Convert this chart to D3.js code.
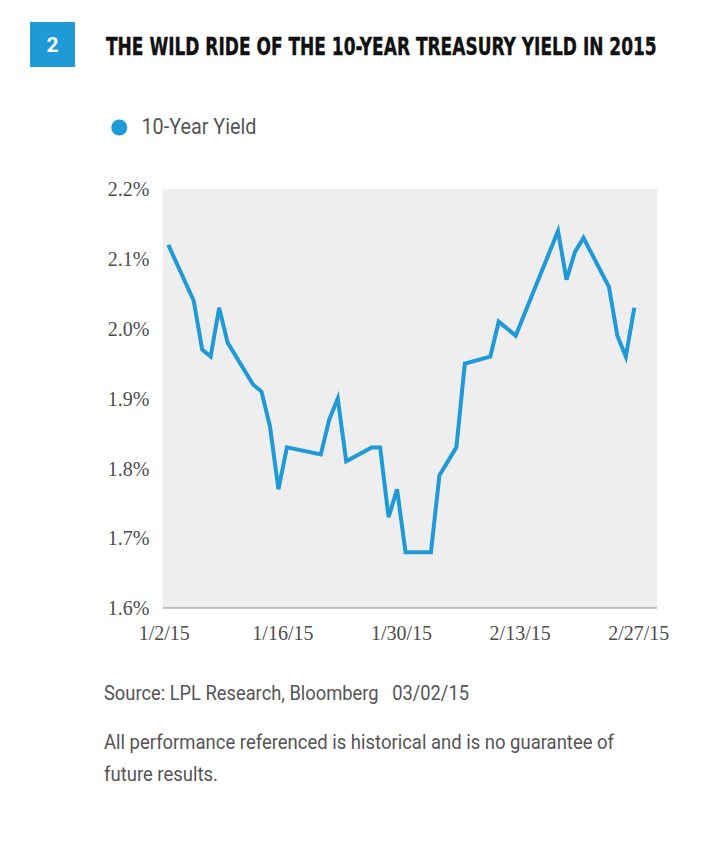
<!DOCTYPE html>
<html>
<head>
<meta charset="utf-8">
<script src="https://cdnjs.cloudflare.com/ajax/libs/d3/7.8.5/d3.min.js"></script>
<style>
  body { margin: 0; background: #fff; }
  svg { display: block; }
</style>
</head>
<body>
<svg id="chart" width="728" height="851"></svg>
<script>
// trading days shown on the chart (2015)
var dates = [
  '2015-01-02','2015-01-05','2015-01-06','2015-01-07','2015-01-08','2015-01-09',
  '2015-01-12','2015-01-13','2015-01-14','2015-01-15','2015-01-16',
  '2015-01-20','2015-01-21','2015-01-22','2015-01-23',
  '2015-01-26','2015-01-27','2015-01-28','2015-01-29','2015-01-30',
  '2015-02-02','2015-02-03','2015-02-04','2015-02-05','2015-02-06',
  '2015-02-09','2015-02-10','2015-02-11','2015-02-12','2015-02-13',
  '2015-02-17','2015-02-18','2015-02-19','2015-02-20',
  '2015-02-23','2015-02-24','2015-02-25','2015-02-26'
];

// 10-year yield, %
var yields = [
  2.12, 2.04, 1.97, 1.96, 2.03, 1.98,
  1.92, 1.91, 1.86, 1.77, 1.83,
  1.82, 1.87, 1.90, 1.81,
  1.83, 1.83, 1.73, 1.77, 1.68,
  1.68, 1.79, 1.81, 1.83, 1.95,
  1.96, 2.01, 2.00, 1.99, 2.02,
  2.14, 2.07, 2.11, 2.13,
  2.06, 1.99, 1.96, 2.03
];

var xTickLabels = ['1/2/15', '1/16/15', '1/30/15', '2/13/15', '2/27/15'];
var yTicks = [1.6, 1.7, 1.8, 1.9, 2.0, 2.1, 2.2];

var seriesName = '10-Year Yield';
var title = 'THE WILD RIDE OF THE 10-YEAR TREASURY YIELD IN 2015';
var figNum = '2';
var sourceLine = 'Source: LPL Research, Bloomberg   03/02/15';
var noteLines = ['All performance referenced is historical and is no guarantee of', 'future results.'];

var blue = '#1f9ad6';
var parse = d3.timeParse('%Y-%m-%d');
var tickParse = d3.timeParse('%m/%d/%y');

var data = dates.map(function(d, i){
  return {date: parse(d), value: yields[i]};
});

var svg = d3.select('#chart');

// plot box
var plot = {left: 163, right: 657, top: 189, bottom: 608};

var x = d3.scaleTime()
  .domain([parse('2015-01-02'), parse('2015-02-26')])
  .range([168.3, 634.3]);

var y = d3.scaleLinear()
  .domain([1.6, 2.2])
  .range([plot.bottom, plot.top]);

// header
svg.append('rect')
  .attr('x', 30).attr('y', 22)
  .attr('width', 45).attr('height', 45)
  .attr('fill', blue);

svg.append('text')
  .attr('x', 52.5).attr('y', 52)
  .attr('text-anchor', 'middle')
  .attr('font-family', 'Roboto, "DejaVu Sans", sans-serif')
  .attr('font-weight', 'bold')
  .attr('font-size', 21)
  .attr('fill', '#fff')
  .text(figNum);

// title: squeeze it horizontally with a transform so it fits 551px
var titleText = svg.append('text')
  .attr('x', 0).attr('y', 0)
  .attr('font-family', '"DejaVu Sans Condensed", Roboto, sans-serif')
  .attr('font-weight', 'bold')
  .attr('font-size', 25)
  .attr('fill', '#111')
  .attr('stroke', '#111')
  .attr('stroke-width', 0.4)
  .text(title);
var titleW = titleText.node().getComputedTextLength();
titleText.attr('transform', 'translate(106,55) scale(' + (551 / titleW) + ',1)');

// legend
svg.append('circle')
  .attr('cx', 119.3).attr('cy', 127.5)
  .attr('r', 8)
  .attr('fill', blue);

svg.append('text')
  .attr('x', 141.5).attr('y', 134)
  .attr('font-family', 'Roboto, "Liberation Sans Narrow", sans-serif')
  .attr('font-size', 22)
  .attr('textLength', 115)
  .attr('lengthAdjust', 'spacingAndGlyphs')
  .attr('fill', '#555')
  .text(seriesName);

// plot background
svg.append('rect')
  .attr('x', plot.left).attr('y', plot.top)
  .attr('width', plot.right - plot.left)
  .attr('height', plot.bottom - plot.top)
  .attr('fill', '#eeeeee');

// baseline
svg.append('line')
  .attr('x1', plot.left).attr('x2', plot.right)
  .attr('y1', y(1.6)).attr('y2', y(1.6))
  .attr('stroke', '#8c8c8c')
  .attr('stroke-width', 1.2);

// y axis labels
var yAxis = d3.axisLeft(y)
  .tickValues(yTicks)
  .tickSize(0)
  .tickPadding(0)
  .tickFormat(function(d){ return d3.format('.1f')(d) + '%'; });

var gy = svg.append('g')
  .attr('transform', 'translate(149.5,0)')
  .call(yAxis);
gy.select('.domain').remove();
gy.selectAll('text')
  .attr('font-family', '"Liberation Serif", "DejaVu Serif", serif')
  .attr('font-size', 20)
  .attr('fill', '#4d4d4d')
  .attr('dy', '0.34em');

// x axis labels
var xAxis = d3.axisBottom(x)
  .tickValues(xTickLabels.map(function(t){ return tickParse(t); }))
  .tickSize(0)
  .tickPadding(0)
  .tickFormat(function(d, i){ return xTickLabels[i]; });

var gx = svg.append('g')
  .attr('transform', 'translate(-4.5,' + plot.bottom + ')')
  .call(xAxis);
gx.select('.domain').remove();
gx.selectAll('text')
  .attr('font-family', '"Liberation Serif", "DejaVu Serif", serif')
  .attr('font-size', 20)
  .attr('fill', '#4d4d4d')
  .attr('dy', null)
  .attr('y', 31.5);

// the yield line
var line = d3.line()
  .x(function(d){ return x(d.date); })
  .y(function(d){ return y(d.value); });

svg.append('path')
  .datum(data)
  .attr('d', line)
  .attr('fill', 'none')
  .attr('stroke', blue)
  .attr('stroke-width', 4)
  .attr('stroke-linejoin', 'miter')
  .attr('stroke-linecap', 'butt');

// footer
var footFont = 'Roboto, "Liberation Sans Narrow", sans-serif';

svg.append('text')
  .attr('x', 104).attr('y', 700)
  .attr('font-family', footFont)
  .attr('font-size', 21)
  .attr('textLength', 365)
  .attr('lengthAdjust', 'spacingAndGlyphs')
  .attr('fill', '#555')
  .attr('xml:space', 'preserve')
  .text(sourceLine);

svg.append('text')
  .attr('x', 104).attr('y', 749)
  .attr('font-family', footFont)
  .attr('font-size', 21)
  .attr('textLength', 510)
  .attr('lengthAdjust', 'spacingAndGlyphs')
  .attr('fill', '#555')
  .text(noteLines[0]);

svg.append('text')
  .attr('x', 104).attr('y', 781)
  .attr('font-family', footFont)
  .attr('font-size', 21)
  .attr('textLength', 114)
  .attr('lengthAdjust', 'spacingAndGlyphs')
  .attr('fill', '#555')
  .text(noteLines[1]);
</script>
</body>
</html>
